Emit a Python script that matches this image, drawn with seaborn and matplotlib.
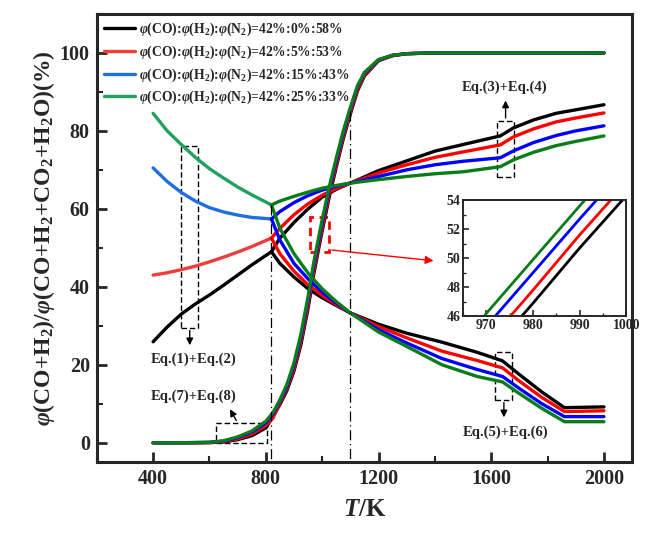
import matplotlib
matplotlib.use('Agg')
import matplotlib.pyplot as plt
from matplotlib.patches import Rectangle
from matplotlib.ticker import MultipleLocator
import seaborn as sns

# temperature grids (K)
T_left = [400, 450, 500, 550, 600, 650, 700, 750, 820]
T_up = [820, 850, 900, 950, 1000, 1050, 1100, 1200, 1300, 1400, 1500, 1632, 1680, 1750, 1830, 1900, 2000]
T_low = [820, 850, 900, 950, 1000, 1050, 1100, 1200, 1300, 1425, 1550, 1640, 1700, 1780, 1860, 2000]
T_s = [400, 500, 600, 650, 700, 750, 800, 825, 850, 875, 900, 925, 950, 970, 980, 990, 1000,
       1025, 1050, 1075, 1100, 1125, 1150, 1200, 1250, 1300, 1400, 1600, 2000]

labels = [r'$\varphi$(CO):$\varphi$(H$_2$):$\varphi$(N$_2$)=42%:0%:58%',
          r'$\varphi$(CO):$\varphi$(H$_2$):$\varphi$(N$_2$)=42%:5%:53%',
          r'$\varphi$(CO):$\varphi$(H$_2$):$\varphi$(N$_2$)=42%:15%:43%',
          r'$\varphi$(CO):$\varphi$(H$_2$):$\varphi$(N$_2$)=42%:25%:33%']
colori_chiari = ['#000000', '#f03c3c', '#1f6fe0', '#22a060']
colori = ['#000000', '#ff0000', '#0000ff', '#0a7d1a']

# curva sotto 820 K
left_black = [25.9, 29.7, 33.0, 35.6, 37.9, 40.4, 43.0, 45.6, 49.0]
left_red = [43.0, 43.6, 44.4, 45.3, 46.4, 47.6, 48.9, 50.3, 52.5]
left_blue = [70.5, 67.0, 64.2, 62.0, 60.3, 59.2, 58.4, 57.8, 57.4]
left_green = [84.5, 80.0, 76.5, 73.2, 70.3, 67.9, 65.6, 63.6, 61.0]

# ramo superiore dopo 820 K
up_black = [49.0, 52.5, 56.5, 60.0, 63.0, 65.0, 66.6, 69.8, 72.3, 74.8, 76.5, 78.7, 80.8, 82.8, 84.5, 85.4, 86.7]
up_red = [52.5, 55.0, 58.5, 61.3, 63.5, 65.2, 66.6, 69.2, 71.3, 73.2, 74.6, 76.4, 78.5, 80.5, 82.3, 83.3, 84.6]
up_blue = [57.4, 59.3, 61.6, 63.4, 64.8, 65.8, 66.6, 68.3, 70.0, 71.3, 72.2, 73.1, 74.9, 77.0, 78.8, 80.0, 81.3]
up_green = [61.0, 62.0, 63.2, 64.3, 65.3, 66.0, 66.6, 67.5, 68.3, 69.0, 69.5, 70.8, 72.6, 74.5, 76.2, 77.3, 78.7]

# ramo inferiore dopo 820 K
low_black = [49.0, 46.0, 42.5, 39.5, 37.2, 35.2, 33.3, 30.4, 28.1, 25.8, 23.2, 21.0, 17.5, 13.0, 9.0, 9.2]
low_red = [52.5, 48.5, 44.0, 40.5, 37.8, 35.4, 33.3, 29.8, 26.9, 23.5, 21.1, 19.2, 15.8, 11.6, 8.0, 8.2]
low_blue = [57.4, 52.0, 46.0, 42.0, 38.6, 35.8, 33.3, 29.0, 25.6, 21.6, 18.8, 17.0, 13.9, 10.0, 6.7, 6.7]
low_green = [61.0, 55.0, 48.5, 43.5, 39.5, 36.2, 33.3, 28.4, 24.7, 20.0, 17.0, 15.6, 12.6, 8.8, 5.4, 5.4]

# curve a S
s_black = [0, 0, 0.03, 0.2, 0.8, 1.8, 3.8, 6.7, 9.8, 13.4, 18.4, 25.3, 34.5, 43.2, 46.9, 50.7, 54.3,
           63.0, 70.7, 78.0, 84.3, 90.2, 94.1, 98.0, 99.3, 99.8, 100, 100, 100]
s_red = [0, 0, 0.05, 0.3, 1.0, 2.2, 4.4, 6.3, 10.2, 13.9, 19.0, 26.1, 35.4, 44.1, 47.8, 51.6, 55.2,
         63.8, 71.4, 78.6, 84.8, 90.6, 94.4, 98.1, 99.3, 99.8, 100, 100, 100]
s_blue = [0, 0, 0.1, 0.4, 1.3, 2.7, 5.1, 7.3, 10.7, 14.4, 19.9, 27.2, 36.6, 45.3, 49.0, 52.7, 56.3,
          64.8, 72.3, 79.4, 85.6, 91.2, 94.8, 98.2, 99.4, 99.8, 100, 100, 100]
s_green = [0, 0, 0.1, 0.5, 1.5, 3.0, 5.5, 7.7, 11.0, 15.0, 20.5, 28.0, 37.5, 46.2, 49.9, 53.6, 57.2,
           65.6, 73.0, 80.0, 86.0, 91.5, 95.0, 98.3, 99.4, 99.8, 100, 100, 100]

left_all = [left_black, left_red, left_blue, left_green]
up_all = [up_black, up_red, up_blue, up_green]
low_all = [low_black, low_red, low_blue, low_green]
s_all = [s_black, s_red, s_blue, s_green]

sns.set_style('ticks')
plt.rcParams['font.family'] = ['Liberation Serif', 'DejaVu Serif']
plt.rcParams['font.weight'] = 'bold'
plt.rcParams['axes.labelweight'] = 'bold'
plt.rcParams['mathtext.fontset'] = 'custom'
plt.rcParams['mathtext.rm'] = 'Liberation Serif:bold'
plt.rcParams['mathtext.it'] = 'Liberation Serif:italic:bold'
plt.rcParams['mathtext.bf'] = 'Liberation Serif:bold'

fig = plt.figure(figsize=(6.45, 5.35), dpi=100)
ax = fig.add_axes([0.150, 0.136, 0.830, 0.838])

lw = 2.4
for i in range(4):
    sns.lineplot(x=T_left, y=left_all[i], color=colori_chiari[i], linewidth=lw, ax=ax,
                 label=labels[i], estimator=None, sort=False)
    sns.lineplot(x=T_up, y=up_all[i], color=colori[i], linewidth=lw, ax=ax,
                 estimator=None, sort=False, legend=False)
    sns.lineplot(x=T_low, y=low_all[i], color=colori[i], linewidth=lw, ax=ax,
                 estimator=None, sort=False, legend=False)
    sns.lineplot(x=T_s, y=s_all[i], color=colori[i], linewidth=lw, ax=ax,
                 estimator=None, sort=False, legend=False)

ax.set_xlim(200, 2100)
ax.set_ylim(-5, 110)
ax.xaxis.set_major_locator(MultipleLocator(400))
ax.xaxis.set_minor_locator(MultipleLocator(200))
ax.yaxis.set_major_locator(MultipleLocator(20))
ax.yaxis.set_minor_locator(MultipleLocator(10))
ax.tick_params(which='major', direction='in', length=7, width=2, labelsize=14.5, pad=5)
ax.tick_params(which='minor', direction='in', length=4, width=1.5)
for s in ax.spines.values():
    s.set_linewidth(2.2)
    s.set_visible(True)
ax.set_xlabel(r'$T$/K', fontsize=18, labelpad=6)
ax.set_ylabel(r'$\varphi$(CO+H$_2$)/$\varphi$(CO+H$_2$+CO$_2$+H$_2$O)(%)', fontsize=17, labelpad=2)

leg = ax.legend(loc='upper left', bbox_to_anchor=(0.0, 1.0), frameon=False, fontsize=9.8,
                handlelength=2.3, handletextpad=0.3, labelspacing=0.4, borderaxespad=0.1)

# linee tratto-punto
ax.plot([820, 820], [61, -5], color='black', lw=0.9, ls=(0, (8, 3, 1, 3)))
ax.plot([1100, 1100], [85, -5], color='black', lw=0.9, ls=(0, (8, 3, 1, 3)))

# riquadri tratteggiati
riquadri = [(500, 29.5, 61, 46.7), (625, 0, 179, 5.1), (1621, 68.2, 61, 14.4), (1614, 11, 61, 12.3)]
for x0, y0, w, h in riquadri:
    ax.add_patch(Rectangle((x0, y0), w, h, fill=False, ec='black', lw=1, ls=(0, (4, 2))))
ax.add_patch(Rectangle((958, 49), 67, 9, fill=False, ec='red', lw=2, ls=(0, (3, 2))))

freccia = dict(arrowstyle='-|>', color='black', lw=1, mutation_scale=10)
ax.annotate('', xy=(530, 24.3), xytext=(530, 29.5), arrowprops=freccia)
ax.annotate('', xy=(668, 9.2), xytext=(700, 5.1), arrowprops=freccia)
ax.annotate('', xy=(1651, 88.5), xytext=(1651, 82.6), arrowprops=freccia)
ax.annotate('', xy=(1645, 5.8), xytext=(1645, 11), arrowprops=freccia)
ax.annotate('', xy=(1405, 46.6), xytext=(1025, 49.5),
            arrowprops=dict(arrowstyle='-|>', color='red', lw=1, mutation_scale=12))

ax.text(543, 21.5, 'Eq.(1)+Eq.(2)', fontsize=10.5, ha='center', va='center')
ax.text(543, 12, 'Eq.(7)+Eq.(8)', fontsize=10.5, ha='center', va='center')
ax.text(1646, 91.3, 'Eq.(3)+Eq.(4)', fontsize=10.5, ha='center', va='center')
ax.text(1650, 2.6, 'Eq.(5)+Eq.(6)', fontsize=10.5, ha='center', va='center')

# ingrandimento
axi = fig.add_axes([0.718, 0.409, 0.253, 0.217])
for i in range(4):
    sns.lineplot(x=T_s, y=s_all[i], color=colori[i], linewidth=2, ax=axi,
                 estimator=None, sort=False, legend=False)
axi.set_xlim(965, 1000)
axi.set_ylim(46, 54)
axi.xaxis.set_major_locator(MultipleLocator(10))
axi.xaxis.set_minor_locator(MultipleLocator(5))
axi.yaxis.set_major_locator(MultipleLocator(2))
axi.yaxis.set_minor_locator(MultipleLocator(1))
axi.tick_params(which='major', direction='in', length=4, width=1.2, labelsize=10, pad=2)
axi.tick_params(which='minor', direction='in', length=2, width=1)
for s in axi.spines.values():
    s.set_linewidth(1.4)
axi.set_xlabel('')
axi.set_ylabel('')

fig.savefig('out.png', dpi=100)
